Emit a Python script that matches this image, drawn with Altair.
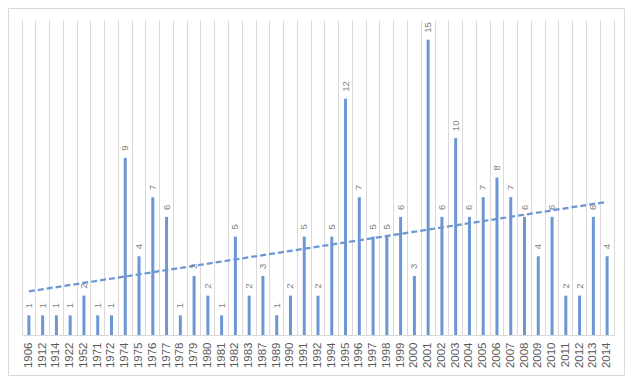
import json
import altair as alt
import pandas as pd

years = ["1906", "1912", "1914", "1922", "1952", "1971", "1972", "1974", "1975", "1976",
         "1977", "1978", "1979", "1980", "1981", "1982", "1983", "1987", "1989", "1990",
         "1991", "1992", "1994", "1995", "1996", "1997", "1998", "1999", "2000", "2001",
         "2002", "2003", "2004", "2005", "2006", "2007", "2008", "2009", "2010", "2011",
         "2012", "2013", "2014"]
counts = [1, 1, 1, 1, 2, 1, 1, 9, 4, 7,
          6, 1, 3, 2, 1, 5, 2, 3, 1, 2,
          5, 2, 5, 12, 7, 5, 5, 6, 3, 15,
          6, 10, 6, 7, 8, 7, 6, 4, 6, 2,
          2, 6, 4]

df = pd.DataFrame({"year": years, "value": counts, "idx": list(range(len(years)))})

BLUE = "#6c96d4"
GRID = "#d9d9d9"
W, H = 592, 315

xscale = alt.Scale(domain=years, paddingInner=0, paddingOuter=0)
yscale = alt.Scale(domain=[0, 16])

base = alt.Chart(df)

bars = base.mark_bar(size=3, color=BLUE).encode(
    x=alt.X("year:O", scale=xscale, sort=None,
            axis=alt.Axis(title=None, labelAngle=270, labelAlign="right",
                          labelBaseline="middle", ticks=False, grid=True,
                          gridColor=GRID, gridOpacity=1, bandPosition=0,
                          domainColor=GRID, labelPadding=7,
                          labelFont="Liberation Sans", labelFontSize=11.5,
                          labelColor="#595959")),
    y=alt.Y("value:Q", scale=yscale,
            axis=alt.Axis(orient="right", title=None, labels=False, ticks=False,
                          grid=False, domain=True, domainColor=GRID)),
)

labels = base.mark_text(angle=270, align="left", baseline="middle", dx=7,
                        font="Liberation Sans", fontSize=9.5, color="#7f7f7f").encode(
    x=alt.X("year:O", scale=xscale, sort=None),
    y=alt.Y("value:Q", scale=yscale),
    text="value:Q",
)

trend = base.transform_regression("idx", "value", method="linear").transform_calculate(
    year=f"{json.dumps(years)}[round(datum.idx)]"
).mark_line(color=BLUE, strokeDash=[6, 3], strokeWidth=2.25).encode(
    x=alt.X("year:O", scale=xscale, sort=None),
    y=alt.Y("value:Q", scale=yscale),
)

frame = alt.Chart(pd.DataFrame({"a": [0]})).mark_rect(
    fill=None, stroke=GRID, strokeWidth=1
).encode(
    x=alt.value(-13.5), x2=alt.value(602.5),
    y=alt.value(-11.5), y2=alt.value(355.5),
)

chart = alt.layer(frame, bars, trend, labels).properties(
    width=W, height=H,
    autosize=alt.AutoSizeParams(type="none"),
    padding={"left": 14, "top": 12, "right": 11, "bottom": 41},
).configure_view(stroke=None)

chart.save("out.html", embed_options={"renderer": "svg", "actions": False})
